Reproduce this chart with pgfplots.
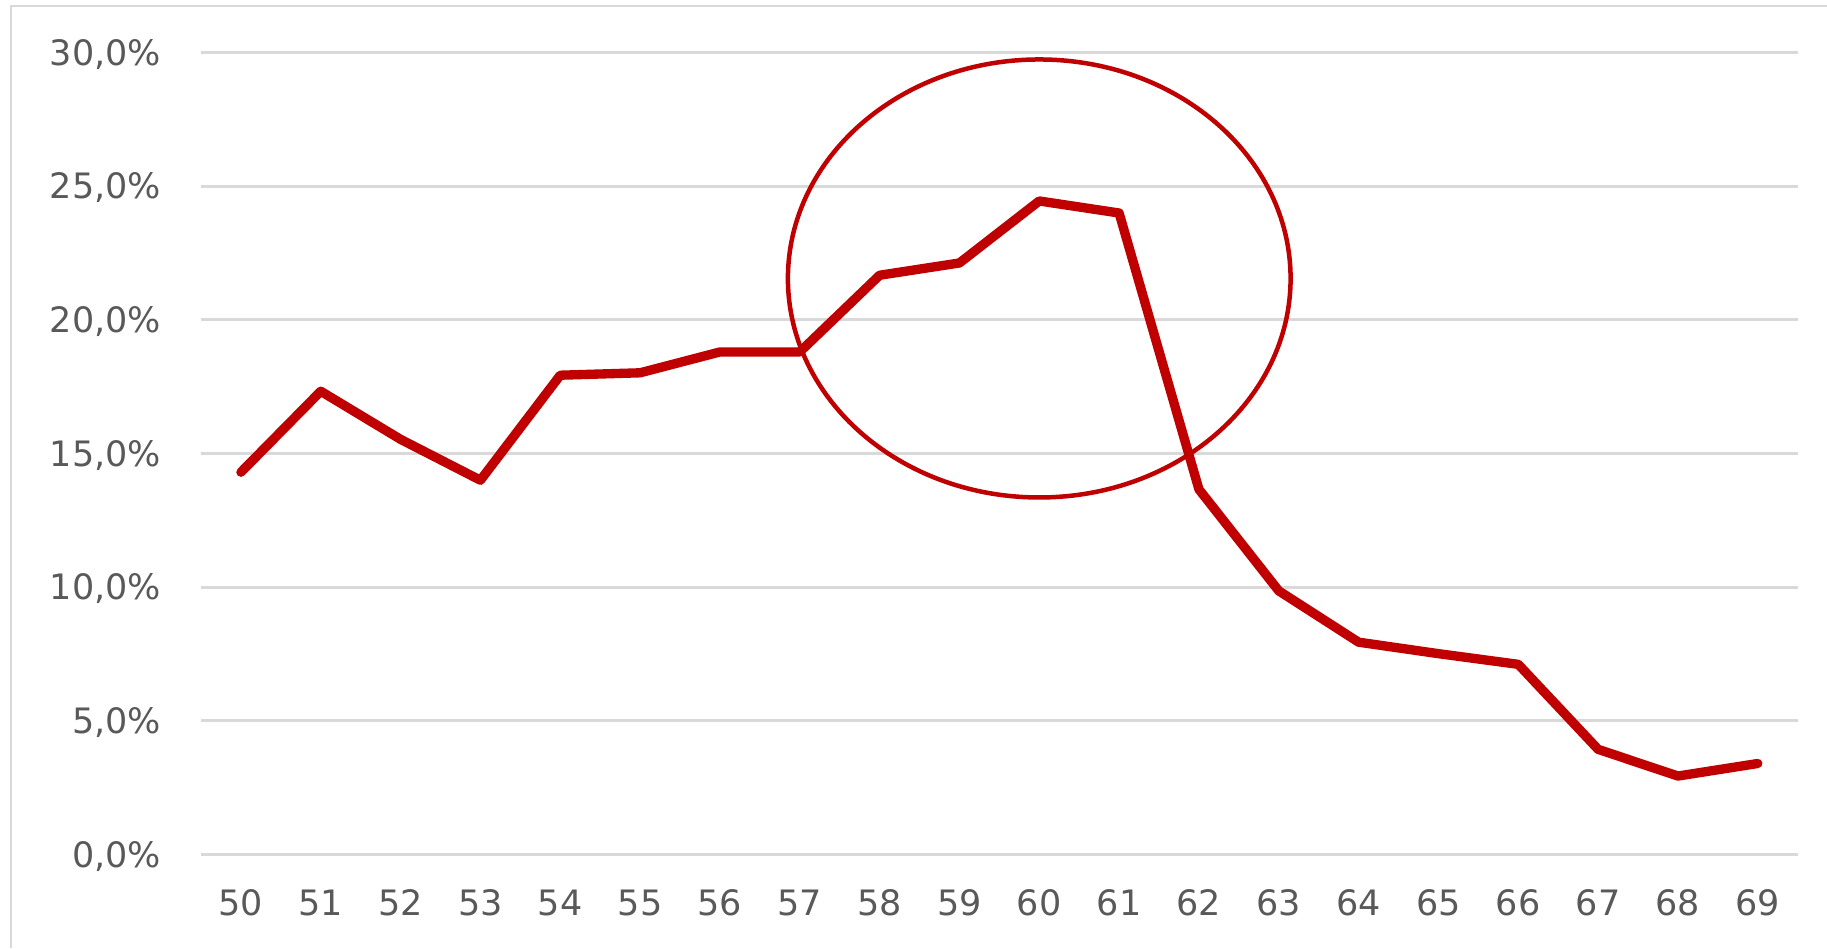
\documentclass[border=0pt]{standalone}
\usepackage{pgfplots}
\pgfplotsset{compat=1.18}
\usepackage{fontspec}
\setmainfont{DejaVu Sans}
\definecolor{gridgray}{HTML}{D9D9D9}
\definecolor{labelgray}{HTML}{595959}
\definecolor{linered}{HTML}{C00000}

\pgfplotstableread{
age share
50 14.3
51 17.33
52 15.53
53 14.0
54 17.93
55 18.02
56 18.8
57 18.8
58 21.67
59 22.13
60 24.45
61 24.0
62 13.66
63 9.86
64 7.94
65 7.51
66 7.11
67 3.93
68 2.93
69 3.4
}\sharetable

\begin{document}
\begin{tikzpicture}
  \path[use as bounding box] (-60.3pt,-28.1pt) rectangle (487.8pt,256.3pt);
  % window frame (top and left edges)
  \draw[gridgray, line width=0.8pt] (-57pt,-28.1pt) -- (-57pt,254.5pt) -- (487.8pt,254.5pt);
  \begin{axis}[
    at={(0,0)}, anchor=south west,
    scale only axis,
    width=479pt, height=240.5pt,
    xmin=49.5, xmax=69.5,
    ymin=0, ymax=30,
    axis line style={draw=none},
    major tick length=0pt,
    xtick={50,...,69},
    ytick={0,5,...,30},
    yticklabels={{0,0\%},{5,0\%},{10,0\%},{15,0\%},{20,0\%},{25,0\%},{30,0\%}},
    ymajorgrids,
    grid style={gridgray, line width=0.9pt},
    /pgf/number format/assume math mode=true,
    tick label style={font=\fontsize{10.5}{12}\selectfont, text=labelgray, inner sep=0pt},
    yticklabel style={anchor=base east, xshift=-11.8pt, yshift=-3.8pt},
    xticklabel style={anchor=base, yshift=-18.2pt},
    clip=false,
  ]
    \addplot[linered, line width=2.8pt, line join=round, line cap=round] table[x=age, y=share] {\sharetable};
    \draw[linered, line width=1.35pt] (axis cs:60,21.55) ellipse [x radius=75.4pt, y radius=65.7pt];
  \end{axis}
\end{tikzpicture}
\end{document}
